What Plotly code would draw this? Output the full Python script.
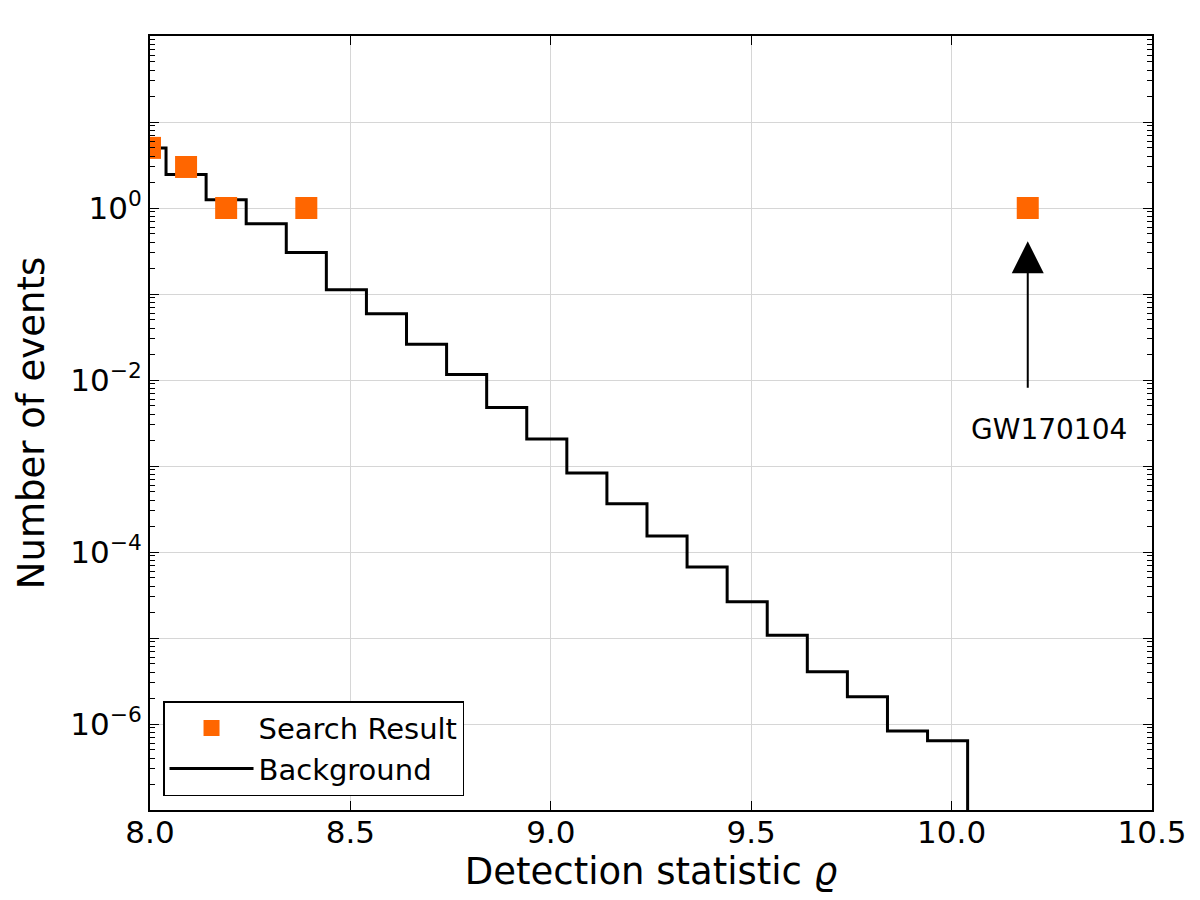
import plotly.graph_objects as go
import numpy as np

# Background histogram (bin edges and per-bin expected counts)
bg_edges = [7.94, 8.04, 8.14, 8.24, 8.34, 8.44, 8.54, 8.64, 8.74, 8.84, 8.94,
            9.04, 9.14, 9.24, 9.34, 9.44, 9.54, 9.64, 9.74, 9.84, 9.94, 10.04]
bg_values = [5.0, 2.45, 1.25, 0.655, 0.304, 0.112, 0.059, 0.026, 0.0116, 0.0048,
             0.00206, 8.3e-4, 3.65e-4, 1.53e-4, 6.7e-5, 2.64e-5, 1.08e-5, 4.06e-6,
             2.08e-6, 8.3e-7, 6.4e-7]
bg_floor = 1e-12  # histogram drops to zero after the last bin

# Search result
sr_x = [8.00, 8.09, 8.19, 8.39, 10.19]
sr_y = [5, 3, 1, 1, 1]

event_name = "GW170104"
event_x = 10.19
arrow_tip = 0.41

# y axis ticks
y_decades = list(range(-7, 3))
y_tickvals = [10.0 ** d for d in y_decades]
y_ticktext = [("10<sup>" + str(d).replace("-", "\u2212") + "</sup>") if d % 2 == 0 and d <= 0 else "" for d in y_decades]
y_minor = [m * 10.0 ** d for d in range(-7, 2) for m in range(2, 10)]
x_tickvals = [8.0, 8.5, 9.0, 9.5, 10.0, 10.5]

step_x = bg_edges
step_y = bg_values + [bg_floor]

FONT = "DejaVu Sans"

fig = go.Figure()
fig.add_trace(go.Scatter(
    x=step_x, y=step_y, mode="lines", line=dict(color="black", width=3, shape="hv"),
    name="Background", legendrank=2,
))
fig.add_trace(go.Scatter(
    x=sr_x, y=sr_y, mode="markers",
    marker=dict(symbol="square", size=22, color="#ff6600", line=dict(width=0)),
    name="Search Result", legendrank=1,
))

fig.add_annotation(
    x=event_x, y=np.log10(arrow_tip), xref="x", yref="y", text="",
    showarrow=True, ax=0, ay=148, axref="pixel", ayref="pixel",
    arrowhead=2, arrowsize=3.2, arrowwidth=2, arrowcolor="black", standoff=0,
)
fig.add_annotation(
    x=10.243, y=-2.58, xref="x", yref="y", text=event_name, showarrow=False,
    font=dict(family=FONT, size=28, color="black"),
)

axis_common = dict(
    showline=True, linecolor="black", linewidth=2, mirror="allticks",
    ticks="inside", ticklen=9, tickwidth=1, tickcolor="black",
    showgrid=True, gridcolor="#d6d6d6", gridwidth=1, zeroline=False,
    tickfont=dict(family=FONT, size=31, color="black"),
)

fig.update_xaxes(
    range=[8.0, 10.5], tickvals=x_tickvals, tickformat=".1f",
    ticklabelstandoff=-6,
    title=dict(text="Detection statistic <i>\u03f1</i>", font=dict(family=FONT, size=37, color="black"), standoff=6),
    **axis_common,
)
fig.update_yaxes(
    type="log", range=[-7, 2], tickvals=y_tickvals, ticktext=y_ticktext,
    minor=dict(tickvals=y_minor, ticks="inside", ticklen=5, tickcolor="black", showgrid=False),
    title=dict(text="Number of events", font=dict(family=FONT, size=37, color="black"), standoff=14),
    **axis_common,
)

fig.update_layout(
    width=1200, height=900,
    margin=dict(l=150, r=48, t=36, b=90),
    paper_bgcolor="white", plot_bgcolor="white",
    font=dict(family=FONT, color="black"),
    showlegend=True,
    legend=dict(
        x=0.013, y=0.018, xanchor="left", yanchor="bottom",
        bgcolor="white", bordercolor="black", borderwidth=1.5,
        font=dict(family=FONT, size=29, color="black"),
        itemwidth=84, tracegroupgap=0,
    ),
)

fig.write_html("out.html")
